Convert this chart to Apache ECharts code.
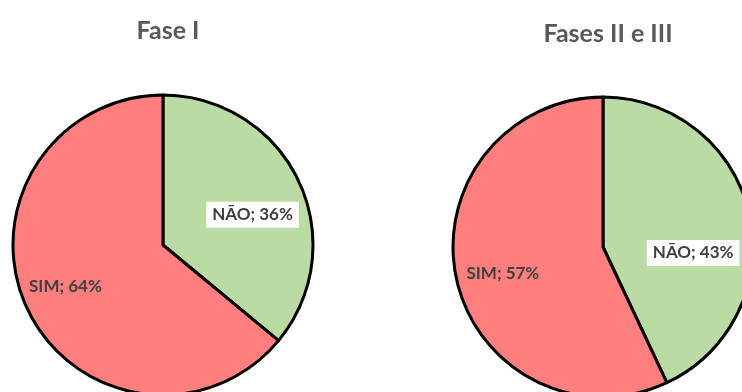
<!DOCTYPE html>
<html>
<head>
<meta charset="utf-8">
<script src="https://cdn.jsdelivr.net/npm/echarts@6/dist/echarts.min.js"></script>
<style>html,body{margin:0;padding:0;background:#fff}#c{width:742px;height:392px}</style>
</head>
<body>
<div id="c"></div>
<script>
const titles = ["Fase I", "Fases II e III"];
const categories = ["NÃO", "SIM"];
const fase1 = [36, 64];
const fases23 = [43, 57];

const colors = ["#BBDBA5", "#FF7F7F"];
// label nudges (dx, dy) per series/category, placement only
const nudges = [[[19, 3], [-27, 8]], [[14, 23], [-24, 10]]];

const centers = [[163, 245], [603, 247]];
const seriesVals = [fase1, fases23];

const chart = echarts.init(document.getElementById('c'));
chart.setOption({
  animation: false,
  title: titles.map((t, i) => ({
    text: t,
    left: centers[i][0],
    top: i === 0 ? 13 : 16,
    textAlign: 'center',
    textStyle: { fontFamily: 'Lato', fontWeight: 'bold', fontSize: 25, color: '#595959' }
  })),
  series: seriesVals.map((vals, si) => ({
    type: 'pie',
    center: centers[si],
    radius: [0, 150],
    startAngle: 90,
    clockwise: true,
    silent: true,
    data: categories.map((c, i) => ({
      name: c, value: vals[i], itemStyle: { color: colors[i] },
      label: i === 0 ? { backgroundColor: '#fff', padding: [5, 6, 4, 6] } : {}
    })),
    itemStyle: { borderColor: '#000', borderWidth: 3 },
    label: {
      show: true,
      position: 'inside',
      formatter: p => p.name + '; ' + p.value + '%',
      fontFamily: 'Lato',
      fontWeight: 'bold',
      fontSize: 17,
      color: '#404040'
    },
    labelLayout: function (params) {
      const n = nudges[si][params.dataIndex];
      return { dx: n[0], dy: n[1] };
    }
  }))
});
</script>
</body>
</html>
